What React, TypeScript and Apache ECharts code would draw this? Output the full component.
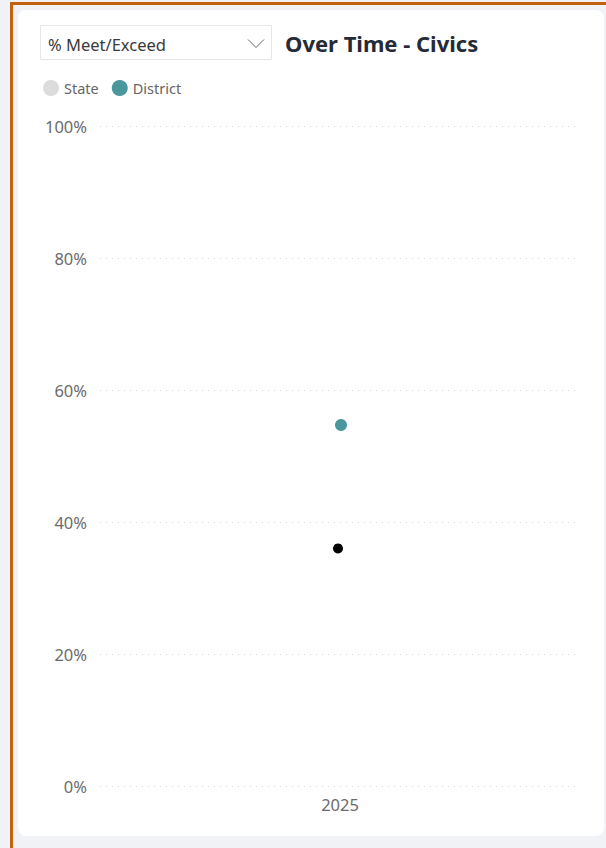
import React, { useEffect, useRef } from "react";
import * as echarts from "echarts";

const years = ["2025"];
const stateValues = [36];
const districtValues = [54.7];
const yTicks = [0, 20, 40, 60, 80, 100];
const dropdownLabel = "% Meet/Exceed";
const titleText = "Over Time - Civics";

const FONT = "'Segoe UI', 'Noto Sans', 'Open Sans', sans-serif";

export default function App() {
  const ref = useRef<HTMLDivElement>(null);
  useEffect(() => {
    if (!ref.current) return;
    const chart = echarts.init(ref.current, undefined, { renderer: "svg" });
    chart.setOption({
      animation: false,
      backgroundColor: "#f1f2f5",
      graphic: [
        { type: "rect", z: -10, shape: { x: 0, y: 0, width: 606, height: 848 }, style: { fill: "#f1f2f5" } },
        { type: "rect", z: -9, shape: { x: 18, y: 10, width: 586, height: 826, r: 8 }, style: { fill: "#ffffff" } },
        { type: "rect", z: 5, shape: { x: 10, y: 2, width: 596, height: 3 }, style: { fill: "#c2620e" } },
        { type: "rect", z: 5, shape: { x: 10, y: 2, width: 3, height: 846 }, style: { fill: "#c2620e" } },
        { type: "rect", z: 5, shape: { x: 40.5, y: 25.5, width: 231, height: 34 }, style: { fill: "#fff", stroke: "#e6e6e6", lineWidth: 1 } },
        { type: "text", z: 6, x: 48, y: 44, style: { text: dropdownLabel, font: `16.5px ${FONT}`, fill: "#3a3a3a", verticalAlign: "middle" } },
        { type: "polyline", z: 6, shape: { points: [[248, 39.5], [256, 47.5], [264, 39.5]] }, style: { stroke: "#666", lineWidth: 1, fill: null } },
        { type: "text", z: 6, x: 285, y: 43, style: { text: titleText, font: `bold 22px ${FONT}`, fill: "#252a36", verticalAlign: "middle" } },
      ],
      legend: {
        left: 43,
        top: 80,
        padding: 0,
        itemWidth: 16,
        itemHeight: 16,
        itemGap: 13,
        icon: "circle",
        textStyle: { fontFamily: FONT, fontSize: 14.5, color: "#666", padding: [0, 0, 0, 0] },
        data: [
          { name: "State", itemStyle: { color: "#dcdcdc" } },
          { name: "District", itemStyle: { color: "#4a979d" } },
        ],
      },
      grid: { left: 100, right: 26, top: 126, bottom: 62, containLabel: false },
      xAxis: {
        type: "category",
        data: years,
        axisLine: { show: false },
        axisTick: { show: false },
        axisLabel: { fontFamily: FONT, fontSize: 16.5, color: "#6b6b6b", margin: 10 },
      },
      yAxis: {
        type: "value",
        min: 0,
        max: 100,
        interval: 20,
        axisLine: { show: false },
        axisTick: { show: false },
        axisLabel: {
          fontFamily: FONT,
          fontSize: 16.5,
          color: "#6b6b6b",
          margin: 13,
          formatter: (v: number) => (yTicks.includes(v) ? `${v}%` : ""),
        },
        splitLine: { lineStyle: { type: [1, 5], color: "#d8d8d8", width: 1 } },
      },
      series: [
        {
          name: "State",
          type: "line",
          data: stateValues,
          symbol: "circle",
          symbolSize: 10,
          symbolOffset: [-2, 0],
          itemStyle: { color: "#000" },
          lineStyle: { color: "#000" },
        },
        {
          name: "District",
          type: "line",
          data: districtValues,
          symbol: "circle",
          symbolSize: 12,
          symbolOffset: [1, 0],
          itemStyle: { color: "#4a979d" },
          lineStyle: { color: "#4a979d" },
        },
      ],
    });
    return () => chart.dispose();
  }, []);
  return (
    <div
      ref={ref}
      style={{ position: "fixed", left: 0, top: 0, width: 606, height: 848 }}
    />
  );
}
